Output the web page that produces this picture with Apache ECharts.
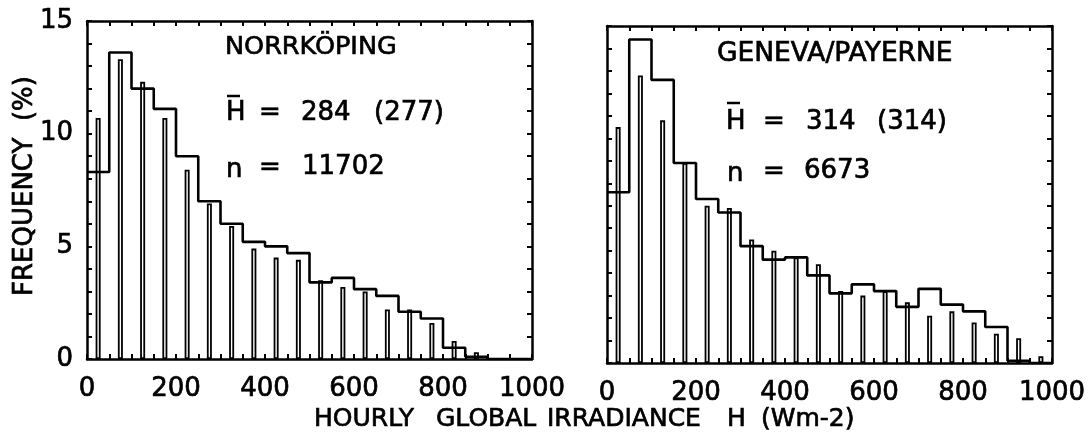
<!DOCTYPE html>
<html>
<head>
<meta charset="utf-8">
<script src="https://cdn.jsdelivr.net/npm/echarts@6/dist/echarts.min.js"></script>
<style>
html,body{margin:0;padding:0;background:#fff;}
#c{width:1090px;height:448px;}
</style>
</head>
<body>
<div id="c"></div>
<script>
// Bin edges and bin centres of hourly global irradiance H (W m-2)
const binEdges = [0,50,100,150,200,250,300,350,400,450,500,550,600,650,700,750,800,850,900,950,1000];
const binCenters = [25,75,125,175,225,275,325,375,425,475,525,575,625,675,725,775,825,875,925,975];
const xTickLabels = [0,200,400,600,800,1000];
const yTickLabels = [0,5,10,15];

// NORRKÖPING: step histogram (wide) and narrow bars, frequency (%)
const norrStep = [8.3,13.6,12.0,11.1,9.0,7.0,6.0,5.2,5.0,4.7,3.4,3.6,3.1,2.8,2.1,1.8,0.5,0.1,0,0];
const norrBars = [10.7,13.3,12.3,10.7,8.4,6.9,5.9,4.9,4.5,4.4,3.5,3.2,3.0,2.2,2.2,1.6,0.8,0.3,0,0];

// GENEVA/PAYERNE
const genStep = [7.6,14.4,12.6,8.9,7.3,6.7,5.2,4.6,4.7,3.9,3.1,3.5,3.2,2.5,3.3,2.6,2.3,1.6,0.1,0];
const genBars = [10.5,12.8,10.8,8.9,7.0,6.9,5.5,5.0,4.7,4.4,3.2,3.0,3.2,2.7,2.1,2.3,1.8,1.3,1.1,0.3];

const FONT = '"DejaVu Sans", "Liberation Sans", sans-serif';
const TSW = 0.7; // text stroke to mimic heavy plotter lettering
const chart = echarts.init(document.getElementById('c'), null, {renderer:'canvas'});

function stepData(vals){
  return binEdges.map((x,i)=>[x, i < vals.length ? vals[i] : vals[vals.length-1]]);
}
function barData(vals){
  return binCenters.map((x,i)=>[x, vals[i]]);
}
const axLine = {show:true, onZero:false, lineStyle:{color:'#000', width:2.5}};
const tick = {show:true, inside:true, length:5, lineStyle:{color:'#000', width:2}};
const lbl = {color:'#000', fontFamily:FONT, fontSize:26, textBorderColor:'#000', textBorderWidth:TSW};
function xAxes(gi){
  return [
    {type:'value', gridIndex:gi, min:0, max:1000, interval:50, position:'bottom',
     axisLine:axLine, splitLine:{show:false}, axisTick:tick,
     axisLabel:Object.assign({show:true, margin:17,
       formatter:v=> xTickLabels.indexOf(v)>=0 ? String(v) : ''}, lbl)},
    {type:'value', gridIndex:gi, min:0, max:1000, interval:50, position:'top',
     axisLine:axLine, splitLine:{show:false}, axisTick:tick,
     axisLabel:{show:false}}
  ];
}
function yAxes(gi, labels){
  return [
    {type:'value', gridIndex:gi, min:0, max:15, interval:1, position:'left',
     axisLine:axLine, splitLine:{show:false}, axisTick:tick,
     axisLabel:Object.assign({show:labels, margin:14,
       formatter:v=> yTickLabels.indexOf(v)>=0 ? String(v) : ''}, lbl)},
    {type:'value', gridIndex:gi, min:0, max:15, interval:1, position:'right',
     axisLine:axLine, splitLine:{show:false}, axisTick:tick,
     axisLabel:{show:false}}
  ];
}
function series(xi, yi, stepVals, barVals){
  return [
    {type:'bar', xAxisIndex:xi, yAxisIndex:yi, data:barData(barVals), barWidth:5,
     itemStyle:{color:'rgba(0,0,0,0)', borderColor:'#000', borderWidth:1.8}, z:2},
    {type:'line', xAxisIndex:xi, yAxisIndex:yi, data:stepData(stepVals), step:'end',
     showSymbol:false, symbol:'none', lineStyle:{color:'#000', width:2.6}, z:3}
  ];
}
function txt(text, x, y, size, align){
  return {type:'text', style:{text:text, x:x, y:y, font:'normal '+size+'px '+FONT,
    fill:'#000', stroke:'#000', lineWidth:TSW, textAlign:align||'left', textVerticalAlign:'middle'}};
}
function bar(x1, x2, y){
  return {type:'line', shape:{x1:x1, y1:y, x2:x2, y2:y}, style:{stroke:'#000', lineWidth:2.5}};
}

const option = {
  backgroundColor:'#fff',
  animation:false,
  grid:[
    {left:87, top:21, width:445, height:338},
    {left:607, top:26, width:445, height:337}
  ],
  xAxis:[...xAxes(0), ...xAxes(1)],
  yAxis:[...yAxes(0, true), ...yAxes(1, false)],
  series:[...series(0,0,norrStep,norrBars), ...series(2,2,genStep,genBars)],
  graphic:[
    txt('NORRKÖPING', 225, 47.5, 25.5),
    txt('H', 226, 113, 26), bar(227, 240, 96),
    txt('=', 270, 113, 26, 'center'),
    txt('284', 301, 113.5, 26),
    txt('(277)', 374, 113.5, 26),
    txt('n', 226, 170, 26),
    txt('=', 270, 168, 26, 'center'),
    txt('11702', 302, 167.5, 26),
    txt('GENEVA/PAYERNE', 717, 54, 26.5),
    txt('H', 726, 122, 26), bar(727, 740, 103),
    txt('=', 774, 122, 26, 'center'),
    txt('314', 806, 122, 26),
    txt('(314)', 877, 122, 26),
    txt('n', 727, 174, 26),
    txt('=', 774, 172, 26, 'center'),
    txt('6673', 804, 171, 26),
    txt('HOURLY', 314, 419, 25),
    txt('GLOBAL', 436, 419, 25),
    txt('IRRADIANCE', 547, 419, 25),
    txt('H', 727, 419, 25),
    txt('(Wm-2)', 761, 419, 25),
    {type:'text', x:25, y:186, rotation:Math.PI/2,
     style:{text:'FREQUENCY  (%)', x:0, y:0, font:'normal 26px '+FONT, fill:'#000',
       stroke:'#000', lineWidth:TSW, textAlign:'center', textVerticalAlign:'middle'}}
  ]
};
chart.setOption(option);
</script>
</body>
</html>
